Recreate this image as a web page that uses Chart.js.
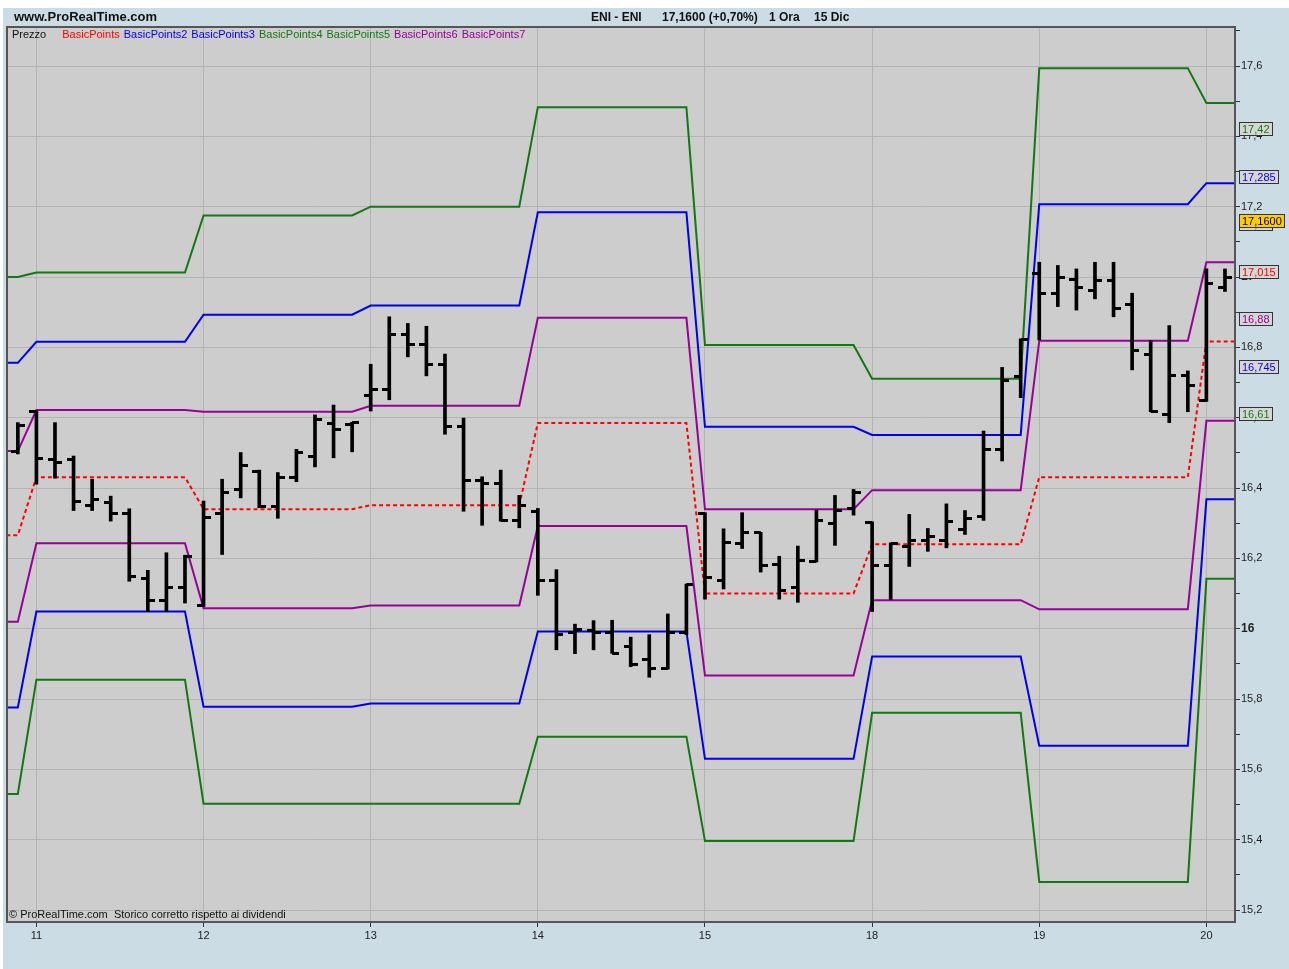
<!DOCTYPE html>
<html>
<head>
<meta charset="utf-8">
<title>ENI - ENI 1 Ora</title>
<script src="https://cdn.jsdelivr.net/npm/chart.js@4.4.0/dist/chart.umd.min.js"></script>
<style>
  body { margin: 0; background: #fff; font-family: "Liberation Sans", Arial, sans-serif; }
  #wrap { position: relative; width: 1289px; height: 969px; overflow: hidden; }
  #bg { position: absolute; left: 3px; top: 8px; right: 0; bottom: 0; background: #cbdce5; }
  canvas { position: absolute; left: 0; top: 0; }
  .txt { position: absolute; white-space: nowrap; line-height: 1; color: #111; }
  .head { font-size: 12px; font-weight: bold; top: 11px; }
  #legend { position: absolute; left: 12px; top: 29px; font-size: 11px; line-height: 1; display: flex; gap: 4px; }
  #legend span:first-child { margin-right: 12px; color: #111; }
</style>
</head>
<body>
<div id="wrap">
  <div id="bg"></div>
  <canvas id="grafico" width="1289" height="969"></canvas>
  <div class="txt" style="left:14px; top:10px; font-size:13px; font-weight:bold;">www.ProRealTime.com</div>
  <div class="txt head" style="left:591px;">ENI - ENI</div>
  <div class="txt head" style="left:662px;">17,1600 (+0,70%)</div>
  <div class="txt head" style="left:769px;">1 Ora</div>
  <div class="txt head" style="left:814px;">15 Dic</div>
  <div id="legend">
    <span>Prezzo</span>
    <span style="color:#ff0000">BasicPoints</span>
    <span style="color:#0000ee">BasicPoints2</span>
    <span style="color:#0000ee">BasicPoints3</span>
    <span style="color:#137813">BasicPoints4</span>
    <span style="color:#137813">BasicPoints5</span>
    <span style="color:#990099">BasicPoints6</span>
    <span style="color:#990099">BasicPoints7</span>
  </div>
  <div class="txt" style="left:9px; top:909px; font-size:11px;">&copy; ProRealTime.com&nbsp; Storico corretto rispetto ai dividendi</div>
</div>

<script>
// giorni di contrattazione e indice della prima barra oraria di ciascuno
const giorni = ["10", "11", "12", "13", "14", "15", "18", "19", "20"];
const primaBarra = [-1, 1, 10, 19, 28, 37, 46, 55, 64];

// barre orarie OHLC
const aperture = [
  16.505, 16.617, 16.482, 16.482, 16.349, 16.358, 16.327, 16.144, 16.080, 16.116,
  16.066, 16.327, 16.396, 16.448, 16.348, 16.431, 16.490, 16.583, 16.580, 16.664,
  16.681, 16.836, 16.808, 16.750, 16.574, 16.422, 16.413, 16.308, 16.332, 16.138,
  15.989, 15.995, 15.990, 15.948, 15.913, 15.886, 15.990, 16.328, 16.138, 16.242,
  16.273, 16.182, 16.116, 16.192, 16.300, 16.342, 16.303, 16.180, 16.235, 16.251,
  16.251, 16.282, 16.320, 16.510, 16.717, 17.011, 16.952, 16.992, 16.961, 16.990,
  16.922, 16.779, 16.610, 16.719, 16.648, 16.971
];
const massimi = [
  16.586, 16.619, 16.586, 16.491, 16.425, 16.377, 16.341, 16.166, 16.216, 16.209,
  16.363, 16.425, 16.501, 16.451, 16.444, 16.510, 16.608, 16.636, 16.587, 16.752,
  16.887, 16.868, 16.860, 16.781, 16.599, 16.432, 16.451, 16.379, 16.342, 16.168,
  16.013, 16.023, 16.024, 15.976, 15.983, 16.042, 16.127, 16.330, 16.284, 16.330,
  16.274, 16.206, 16.235, 16.337, 16.379, 16.396, 16.304, 16.244, 16.325, 16.285,
  16.355, 16.336, 16.562, 16.743, 16.824, 17.042, 17.033, 17.023, 17.042, 17.042,
  16.954, 16.819, 16.862, 16.733, 17.023, 17.023
];
const minimi = [
  16.497, 16.411, 16.428, 16.336, 16.336, 16.306, 16.135, 16.049, 16.049, 16.073,
  16.063, 16.211, 16.372, 16.344, 16.314, 16.418, 16.460, 16.486, 16.503, 16.619,
  16.651, 16.773, 16.719, 16.553, 16.334, 16.294, 16.306, 16.287, 16.095, 15.940,
  15.929, 15.940, 15.930, 15.892, 15.862, 15.885, 15.983, 16.084, 16.113, 16.228,
  16.161, 16.084, 16.075, 16.190, 16.237, 16.323, 16.049, 16.083, 16.177, 16.220,
  16.230, 16.268, 16.308, 16.477, 16.657, 16.821, 16.916, 16.906, 16.938, 16.887,
  16.736, 16.617, 16.586, 16.617, 16.646, 16.959
];
const chiusure = [
  16.577, 16.483, 16.472, 16.361, 16.367, 16.327, 16.149, 16.080, 16.116, 16.206,
  16.317, 16.386, 16.463, 16.348, 16.431, 16.501, 16.596, 16.567, 16.585, 16.681,
  16.836, 16.808, 16.750, 16.574, 16.422, 16.413, 16.308, 16.349, 16.138, 15.983,
  15.997, 15.990, 15.930, 15.899, 15.886, 15.990, 16.125, 16.146, 16.244, 16.273,
  16.180, 16.108, 16.194, 16.309, 16.337, 16.386, 16.180, 16.242, 16.251, 16.263,
  16.304, 16.312, 16.510, 16.707, 16.821, 16.952, 17.000, 16.969, 16.990, 16.911,
  16.790, 16.619, 16.719, 16.691, 16.983, 17.000
];

// punti pivot giornalieri (un valore per giorno)
const pivot = [16.266, 16.431, 16.340, 16.351, 16.585, 16.100, 16.240, 16.431, 16.817];
const r1 = [16.505, 16.622, 16.617, 16.634, 16.884, 16.340, 16.394, 16.819, 17.042];
const s1 = [16.020, 16.243, 16.058, 16.066, 16.292, 15.867, 16.081, 16.055, 16.591];
const r2 = [16.756, 16.816, 16.893, 16.919, 17.184, 16.574, 16.551, 17.207, 17.267];
const s2 = [15.776, 16.049, 15.778, 15.787, 15.992, 15.630, 15.921, 15.667, 16.368];
const r3 = [17.000, 17.013, 17.175, 17.200, 17.483, 16.807, 16.711, 17.594, 17.495];
const s3 = [15.530, 15.855, 15.502, 15.502, 15.693, 15.396, 15.761, 15.280, 16.142];

// livelli in etichetta sull'asse dei prezzi
const livelli = [17.42, 17.285, 17.15, 17.015, 16.88, 16.745, 16.61];
const coloriLivelli = ["#137813", "#0000ee", "#990099", "#ee0000", "#990099", "#0000ee", "#137813"];
const ultimoPrezzo = 17.16;

const ROSSO = "#ff0000", BLU = "#0000ee", VERDE = "#137813", VIOLA = "#990099";

// valore del livello giornaliero su ogni barra; le barre -1 e 66 portano la linea fino ai bordi
function serieGiornaliera(valori) {
  const punti = [];
  for (let i = -1; i <= aperture.length; i++) {
    let g = 0;
    while (g + 1 < primaBarra.length && primaBarra[g + 1] <= i) g++;
    punti.push({ x: i, y: valori[g] });
  }
  return punti;
}

// trattino orizzontale usato come pointStyle per apertura (sinistra) e chiusura (destra)
function trattino(lato) {
  const c = document.createElement("canvas");
  c.width = 14;
  c.height = 3;
  const g = c.getContext("2d");
  g.fillStyle = "#000";
  g.fillRect(lato === "sx" ? 0 : 7, 0, 7, 3);
  return c;
}

function linea(label, valori, colore, tratteggio) {
  return {
    type: "line",
    label: label,
    data: serieGiornaliera(valori),
    borderColor: colore,
    borderWidth: 2,
    borderDash: tratteggio || [],
    pointRadius: 0,
    tension: 0,
    fill: false,
    order: 2,
  };
}

const isPari = (v) => Math.abs(Math.round(v * 10) % 2) === 0;
const isIntero = (v) => Math.abs(v - Math.round(v)) < 1e-6;
const virgola = (v, d) => v.toFixed(d).replace(".", ",");

// sfondo dell'area del grafico e cornice
const cornice = {
  id: "cornice",
  beforeDraw(chart) {
    const { ctx, chartArea: a } = chart;
    ctx.save();
    ctx.fillStyle = "#cdcdcd";
    ctx.fillRect(a.left, a.top, a.right - a.left, a.bottom - a.top);
    ctx.restore();
  },
  afterDraw(chart) {
    const { ctx, chartArea: a } = chart;
    ctx.save();
    ctx.strokeStyle = "#555";
    ctx.lineWidth = 2;
    ctx.strokeRect(a.left - 1, a.top, a.right - a.left + 1, a.bottom - a.top);
    ctx.restore();
  },
};

// riquadri con i valori dei livelli e dell'ultimo prezzo sull'asse destro
const etichetteLivelli = {
  id: "etichetteLivelli",
  afterDraw(chart) {
    const { ctx } = chart;
    const y = chart.scales.y;
    const x0 = chart.chartArea.right + 4;
    ctx.save();
    ctx.font = "11px 'Liberation Sans', Arial, sans-serif";
    ctx.textBaseline = "middle";
    const riquadro = (valore, testo, sfondo, colore) => {
      const py = Math.round(y.getPixelForValue(valore));
      const w = Math.ceil(ctx.measureText(testo).width) + 6;
      ctx.fillStyle = sfondo;
      ctx.fillRect(x0, py - 7, w, 14);
      ctx.strokeStyle = "#333";
      ctx.lineWidth = 1;
      ctx.strokeRect(x0 + 0.5, py - 6.5, w - 1, 13);
      ctx.fillStyle = colore;
      ctx.fillText(testo, x0 + 3, py + 0.5);
    };
    livelli.forEach((v, i) => riquadro(v, virgola(v, String(v).split(".")[1].length), "#d6d6d6", coloriLivelli[i]));
    riquadro(ultimoPrezzo, virgola(ultimoPrezzo, 4), "#ffcc00", "#000");
    ctx.restore();
  },
};

new Chart(document.getElementById("grafico"), {
  type: "line",
  data: {
    datasets: [
      {
        type: "bar",
        label: "Prezzo",
        data: massimi.map((h, i) => ({ x: i, y: [minimi[i], h] })),
        backgroundColor: "#000",
        borderWidth: 0,
        barThickness: 3,
        grouped: false,
        order: 0,
      },
      {
        type: "line",
        label: "Apertura",
        data: aperture.map((v, i) => ({ x: i, y: v })),
        showLine: false,
        pointStyle: trattino("sx"),
        pointRadius: 3,
        order: 0,
      },
      {
        type: "line",
        label: "Chiusura",
        data: chiusure.map((v, i) => ({ x: i, y: v })),
        showLine: false,
        pointStyle: trattino("dx"),
        pointRadius: 3,
        order: 0,
      },
      linea("BasicPoints", pivot, ROSSO, [4, 3]),
      linea("BasicPoints2", r2, BLU),
      linea("BasicPoints3", s2, BLU),
      linea("BasicPoints4", r3, VERDE),
      linea("BasicPoints5", s3, VERDE),
      linea("BasicPoints6", r1, VIOLA),
      linea("BasicPoints7", s1, VIOLA),
    ],
  },
  options: {
    responsive: false,
    animation: false,
    events: [],
    layout: { padding: { left: 8, top: 27, right: 0, bottom: 0 } },
    plugins: {
      legend: { display: false },
      tooltip: { enabled: false },
    },
    scales: {
      x: {
        type: "linear",
        offset: false,
        min: -0.53,
        max: 65.54,
        afterBuildTicks: (scale) => {
          scale.ticks = primaBarra.slice(1).map((v) => ({ value: v }));
        },
        afterFit: (scale) => {
          scale.height = 47;
        },
        ticks: {
          autoSkip: false,
          maxRotation: 0,
          padding: 2,
          color: "#222",
          font: { size: 11, family: "'Liberation Sans', Arial, sans-serif" },
          callback: (v, i) => giorni[i + 1],
        },
        grid: { offset: false, color: "#b4b4b4", lineWidth: 1, tickLength: 5, tickColor: "#333" },
        border: { display: true, color: "#555", width: 2 },
      },
      y: {
        type: "linear",
        position: "right",
        min: 15.166,
        max: 17.711,
        afterFit: (scale) => {
          scale.width = 54;
        },
        ticks: {
          stepSize: 0.1,
          includeBounds: false,
          autoSkip: false,
          padding: 1,
          color: "#222",
          font: (c) => ({
            size: c.tick && isIntero(c.tick.value) ? 12 : 11,
            weight: c.tick && isIntero(c.tick.value) ? "bold" : "normal",
            family: "'Liberation Sans', Arial, sans-serif",
          }),
          callback: (v) => (isPari(v) ? (isIntero(v) ? String(Math.round(v)) : virgola(v, 1)) : ""),
        },
        grid: {
          color: (c) => (c.tick && isPari(c.tick.value) ? "#b4b4b4" : "rgba(0,0,0,0)"),
          lineWidth: 1,
          tickLength: 5,
          tickColor: "#333",
        },
        border: { display: true, color: "#555", width: 2 },
      },
    },
  },
  plugins: [cornice, etichetteLivelli],
});
</script>
</body>
</html>
